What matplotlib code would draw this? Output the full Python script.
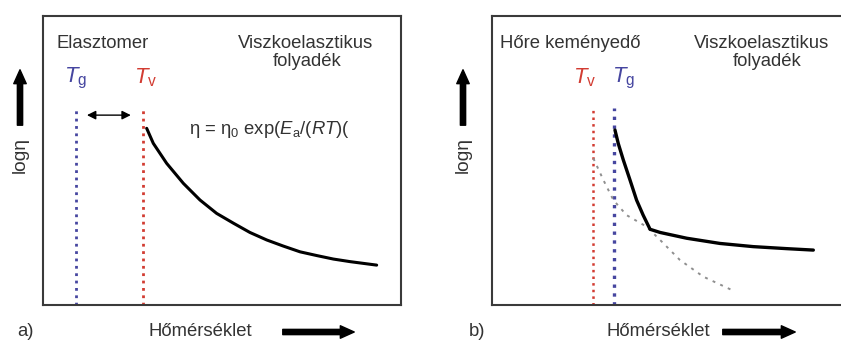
import matplotlib.pyplot as plt

plt.rcParams['font.family'] = ['Liberation Sans', 'DejaVu Sans']
plt.rcParams['mathtext.fontset'] = 'custom'
plt.rcParams['mathtext.rm'] = 'Liberation Sans'
plt.rcParams['mathtext.it'] = 'Liberation Sans:italic'

# panel a) curve (axes units 0-100)
a_x = [28.96, 30.81, 34.54, 39.2, 43.85, 48.5, 53.2, 57.8, 62.5, 67.1, 71.8, 76.5, 81.1, 85.8, 93.2]
a_y = [61.13, 55.94, 49.02, 42.1, 36.33, 31.7, 28.3, 25.1, 22.5, 20.4, 18.4, 17.1, 15.9, 15.0, 13.8]
a_tg, a_tv = 9.2, 27.8

# panel b) curves
b_x = [35.55, 36.5, 37.96, 39.9, 41.8, 43.7, 45.7, 48.6, 56.3, 65.9, 75.5, 85.2, 92.9]
b_y = [60.55, 55.9, 50.2, 43.25, 36.3, 31.1, 26.2, 25.1, 23.1, 21.3, 20.2, 19.5, 19.0]
b_dx = [29.3, 32.2, 35.1, 38.9, 44.7, 48.6, 54.3, 61.1, 69.3]
b_dy = [50.75, 43.25, 36.3, 31.1, 27.1, 22.5, 15.6, 9.8, 5.2]
b_tv, b_tg = 29.1, 35.3
line_top = 68.0

blue = '#4646a0'
red = '#d23c32'
txt = '#333333'

fig = plt.figure(figsize=(8.41, 3.42), dpi=100)
W, H = 841, 342


def add_ax(left, right):
    ax = fig.add_axes([left / W, (H - 305) / H, (right - left) / W, 289 / H])
    ax.set_ylim(0, 100)
    ax.set_xticks([])
    ax.set_yticks([])
    for s in ax.spines.values():
        s.set_color('#3a3a3a')
        s.set_linewidth(1.5)
    return ax


ax1 = add_ax(43, 401)
ax1.set_xlim(0, 100)
ax2 = add_ax(492, 841)
ax2.set_xlim(0, 100.9)
ax2.spines['right'].set_visible(False)

# a)
ax1.plot([a_tg, a_tg], [0, line_top], ls=':', color=blue, lw=2)
ax1.plot([a_tv, a_tv], [0, line_top], ls=':', color=red, lw=2)
ax1.plot(a_x, a_y, color='black', lw=2.2, solid_capstyle='round', solid_joinstyle='round')
ax1.annotate('', xy=(25.3, 65.7), xytext=(11.5, 65.7),
             arrowprops=dict(arrowstyle='<|-|>', color='black', lw=1, mutation_scale=13))

# b)
ax2.plot([b_tv, b_tv], [0, line_top], ls=':', color=red, lw=1.8)
ax2.plot([b_tg, b_tg], [0, line_top], ls=':', color=blue, lw=2.4)
ax2.plot(b_dx, b_dy, ls=(0, (1.5, 2.8)), color='#8f8f8f', lw=1.4)
ax2.plot(b_x, b_y, color='black', lw=2.4, solid_capstyle='round', solid_joinstyle='round')


def ftext(x, y, s, **kw):
    kw.setdefault('color', txt)
    kw.setdefault('fontsize', 13.3)
    fig.text(x / W, 1 - y / H, s, ha='center', va='center', **kw)


def farrow(x0, y0, x1, y1):
    fig.add_artist(plt.matplotlib.patches.FancyArrowPatch(
        (x0 / W, 1 - y0 / H), (x1 / W, 1 - y1 / H), transform=fig.transFigure,
        arrowstyle='simple,head_width=0.9,head_length=1.0,tail_width=0.38',
        mutation_scale=10, color='black'))


# a) texts
ftext(103, 43, 'Elasztomer')
ftext(306, 43, 'Viszkoelasztikus')
ftext(307, 62, 'folyadék')
ftext(76, 78, r'$T_{\rm g}$', color=blue, fontsize=16)
ftext(146, 78, r'$T_{\rm v}$', color=red, fontsize=16)
ftext(269, 130, r'η = η$_0$ exp($E_{\rm a}$/($RT$)(', fontsize=13.3)
ftext(20, 155, 'logη', rotation=90, fontsize=13.8)
farrow(20, 128, 20, 67)
ftext(26, 332, 'a)')
ftext(200, 332, 'Hőmérséklet')
farrow(280, 332, 357, 332)

# b) texts
ftext(570, 43, 'Hőre keményedő')
ftext(762, 43, 'Viszkoelasztikus')
ftext(767, 62, 'folyadék')
ftext(585, 78, r'$T_{\rm v}$', color=red, fontsize=16)
ftext(624, 78, r'$T_{\rm g}$', color=blue, fontsize=16)
ftext(463, 155, 'logη', rotation=90, fontsize=13.8)
farrow(463, 128, 463, 67)
ftext(477, 332, 'b)')
ftext(658, 332, 'Hőmérséklet')
farrow(720, 332, 798, 332)

plt.savefig('out.png', dpi=100)
